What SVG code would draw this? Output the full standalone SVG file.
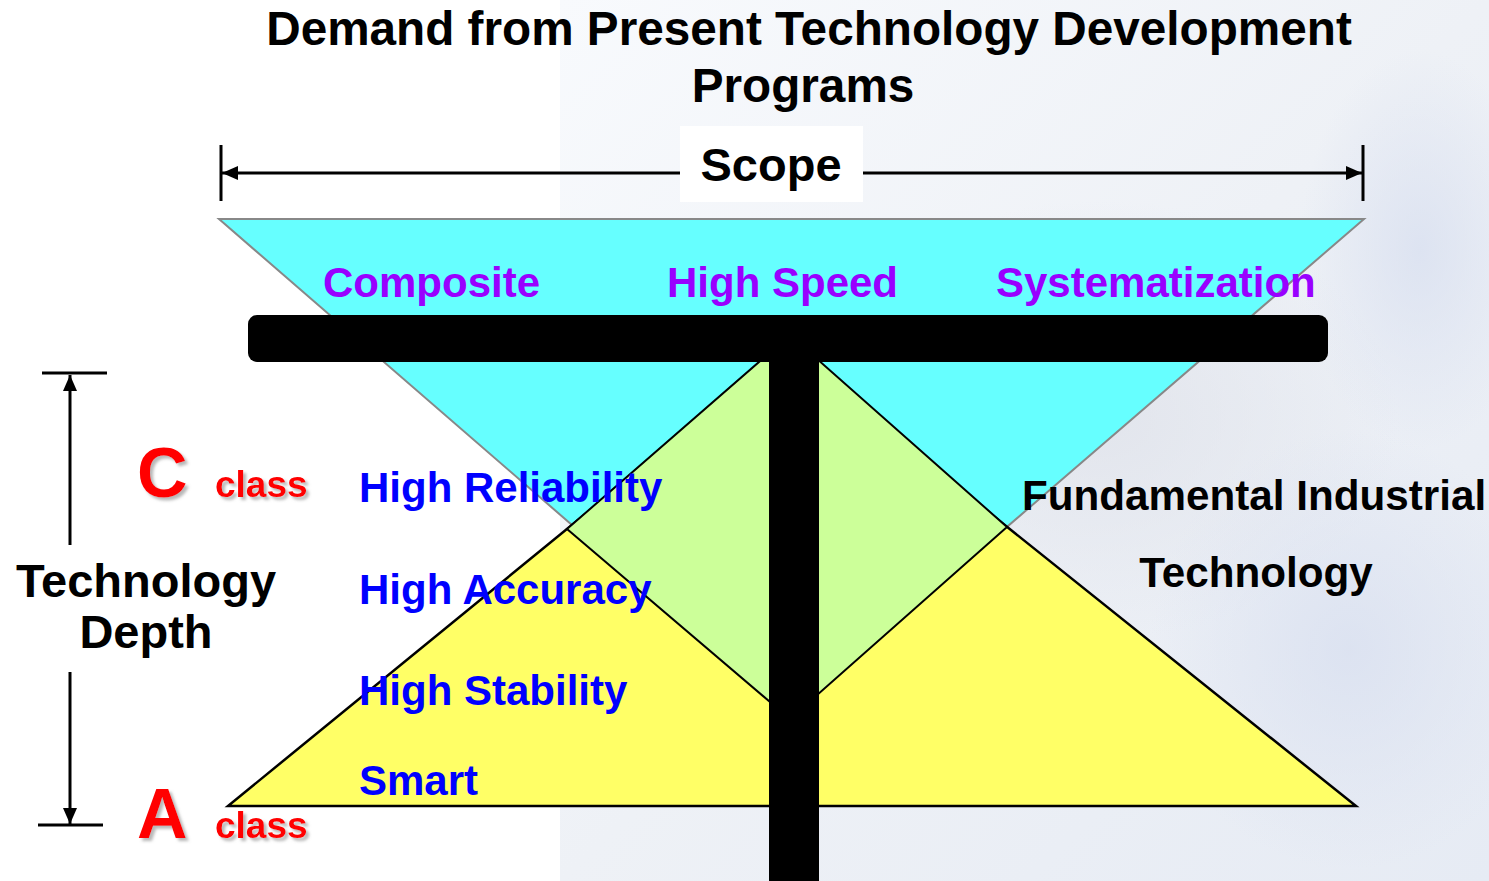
<svg xmlns="http://www.w3.org/2000/svg" width="1489" height="881" viewBox="0 0 1489 881">
<defs>
<linearGradient id="bg" x1="0" y1="0" x2="1" y2="1">
<stop offset="0" stop-color="#f8fafd"/>
<stop offset="0.5" stop-color="#eef1f6"/>
<stop offset="1" stop-color="#e6ebf4"/>
</linearGradient>
<radialGradient id="blob1" cx="0.5" cy="0.5" r="0.5">
<stop offset="0" stop-color="#dfe2ea" stop-opacity="0.8"/>
<stop offset="1" stop-color="#dfe2ea" stop-opacity="0"/>
</radialGradient>
<radialGradient id="blob2" cx="0.5" cy="0.5" r="0.5">
<stop offset="0" stop-color="#d9e0f0" stop-opacity="0.8"/>
<stop offset="1" stop-color="#d9e0f0" stop-opacity="0"/>
</radialGradient>
<filter id="shadow" x="-20%" y="-20%" width="140%" height="140%">
<feDropShadow dx="3" dy="3" stdDeviation="1.5" flood-color="#888" flood-opacity="0.6"/>
</filter>
<marker id="ah" viewBox="0 0 16 14" refX="16" refY="7" markerWidth="16" markerHeight="14" markerUnits="userSpaceOnUse" orient="auto">
<path d="M0,0 L16,7 L0,14 Z" fill="#000"/>
</marker>
</defs>
<style>
text{font-family:"Liberation Sans",Arial,sans-serif;font-weight:bold;}
.title{font-size:47.7px;fill:#000;}
.purple{font-size:42px;fill:#9900ff;}
.blue{font-size:42px;fill:#0000ff;}
.black{font-size:42.2px;fill:#000;}
.red{fill:#ff0000;filter:url(#shadow);}
.dim{stroke:#000;stroke-width:3;fill:none;}
</style>
<rect x="0" y="0" width="1489" height="881" fill="#fff"/>
<rect x="560" y="0" width="929" height="881" fill="url(#bg)"/>
<ellipse cx="1100" cy="420" rx="300" ry="220" fill="url(#blob1)"/>
<ellipse cx="1350" cy="650" rx="200" ry="220" fill="url(#blob2)"/>
<ellipse cx="1420" cy="250" rx="120" ry="200" fill="url(#blob2)"/>

<g id="title">
<text class="title" x="809" y="45" text-anchor="middle">Demand from Present Technology Development</text>
<text class="title" x="803" y="102" text-anchor="middle">Programs</text>
</g>

<g id="connectors">
<line class="dim" x1="221" y1="145" x2="221" y2="201"/>
<line class="dim" x1="1363" y1="145" x2="1363" y2="201"/>
<line class="dim" x1="680" y1="173" x2="222" y2="173" marker-end="url(#ah)"/>
<line class="dim" x1="863" y1="173" x2="1362" y2="173" marker-end="url(#ah)"/>
<line class="dim" x1="42" y1="373" x2="107" y2="373"/>
<line class="dim" x1="70" y1="545" x2="70" y2="375" marker-end="url(#ah)"/>
<line class="dim" x1="38" y1="825" x2="103" y2="825"/>
<line class="dim" x1="70" y1="672" x2="70" y2="824" marker-end="url(#ah)"/>
</g>

<g id="scope">
<rect x="680" y="126" width="183" height="76" fill="#fff"/>
<text x="771" y="181" text-anchor="middle" style="font-size:47px;fill:#000">Scope</text>
</g>

<g id="cyan-triangle">
<polygon points="219,219 1364,219 790,714" fill="#66ffff" stroke="#888" stroke-width="2"/>
</g>
<g id="yellow-triangle">
<polygon points="228,806 1356,806 786,350" fill="#ffff66" stroke="#000" stroke-width="2.5"/>
</g>
<g id="green-overlap">
<polygon points="567,529 790,335 1007,527 790,719" fill="#ccff99" stroke="#000" stroke-width="2"/>
</g>

<g id="t-bar">
<rect x="248" y="315" width="1080" height="47" rx="9" fill="#000"/>
<rect x="769" y="355" width="50" height="526" fill="#000"/>
</g>

<g id="top-labels">
<text class="purple" x="323" y="297">Composite</text>
<text class="purple" x="667" y="297">High Speed</text>
<text class="purple" x="996" y="297">Systematization</text>
</g>

<g id="blue-labels">
<text class="blue" x="359" y="502">High Reliability</text>
<text class="blue" x="359" y="604">High Accuracy</text>
<text class="blue" x="359" y="705">High Stability</text>
<text class="blue" x="359" y="795">Smart</text>
</g>

<g id="fundamental">
<text class="black" x="1022" y="510">Fundamental Industrial</text>
<text class="black" x="1256" y="587" text-anchor="middle">Technology</text>
</g>

<g id="depth">
<text x="146" y="597" text-anchor="middle" style="font-size:47px;fill:#000">Technology</text>
<text x="146" y="648" text-anchor="middle" style="font-size:47px;fill:#000">Depth</text>
</g>

<g id="class-c">
<text class="red" x="137" y="497" style="font-size:70px">C</text>
<text class="red" x="215" y="497" style="font-size:37px">class</text>
</g>
<g id="class-a">
<text class="red" x="137" y="838" style="font-size:70px">A</text>
<text class="red" x="215" y="838" style="font-size:37px">class</text>
</g>
</svg>
